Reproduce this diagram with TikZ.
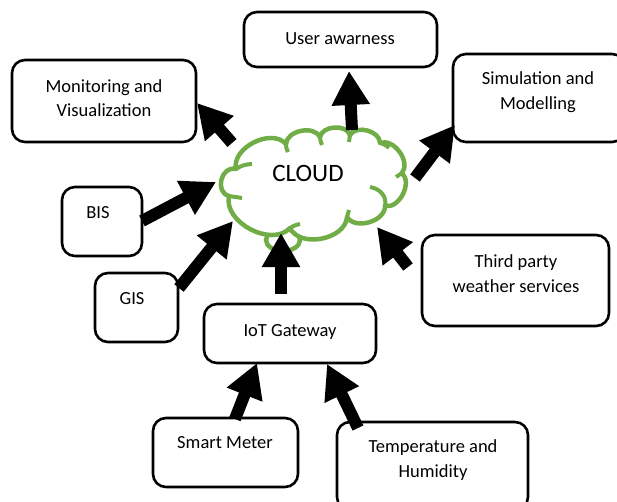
\documentclass[tikz,border=0pt]{standalone}
\usepackage{fontspec}
\setmainfont{Carlito}
\usetikzlibrary{arrows.meta,shapes.geometric}
\definecolor{cloudgreen}{HTML}{70AD47}
\begin{document}
\begin{tikzpicture}[x=1pt,y=-1pt,
  box/.style={draw=black,line width=2.6pt,rounded corners=13pt,fill=white},
  txt/.style={align=center,font=\fontsize{18.5pt}{24.5pt}\selectfont,inner sep=0pt},
  bigarrow/.style={line width=12pt,-{Triangle[length=34pt,width=36pt]}},
  cloudline/.style={draw=cloudgreen,line width=4.5pt},
  hook/.style={draw=cloudgreen,line width=4pt},
  puff/.style={bend left=75}
]
\useasboundingbox (0,0) rectangle (617,502);
% boxes
\draw[box] (244,12) rectangle (437,67) node[pos=0.5] (userb) {};
\node[txt] (usert) at (340,39) {User awarness};
\draw[box] (12,60) rectangle (196,142) node[pos=0.5] (monb) {};
\node[txt] (mont) at (104,98) {Monitoring and\\Visualization};
\draw[box] (453,54) rectangle (625,142) node[pos=0.5] (simb) {};
\node[txt] (simt) at (538,92) {Simulation and\\Modelling};
\draw[box] (62,187) rectangle (142,256) node[pos=0.5] (bisb) {};
\node[txt] (bist) at (98,213) {BIS};
\draw[box] (95,273) rectangle (178,342) node[pos=0.5] (gisb) {};
\node[txt] (gist) at (132,299) {GIS};
\draw[box] (204,304) rectangle (376,363) node[pos=0.5] (iotb) {};
\node[txt] (iott) at (290,332) {IoT Gateway};
\draw[box] (422,235) rectangle (609,326) node[pos=0.5] (thirdb) {};
\node[txt] (thirdt) at (516,273.5) {Third party\\weather services};
\draw[box] (153,418) rectangle (298,487) node[pos=0.5] (smb) {};
\node[txt] (smt) at (225,443) {Smart Meter};
\draw[box] (337,422) rectangle (528,510) node[pos=0.5] (tmb) {};
\node[txt] (tmt) at (433,460) {Temperature and\\Humidity};
% cloud
\draw[cloudline] (283,240) ellipse (17pt and 11pt);
\coordinate (j1) at (236,169);
\coordinate (j2) at (286,144);
\coordinate (j3) at (320,137);
\coordinate (j4) at (350,135);
\coordinate (j5) at (380,143);
\coordinate (j6) at (402,173);
\coordinate (j7) at (385,206);
\coordinate (j8) at (347,217);
\coordinate (j9) at (290,228);
\coordinate (j10) at (229,196);
\draw[cloudline,fill=white,line join=round]
  (j1) to[puff] (j2) to[puff] (j3) to[puff] (j4) to[puff] (j5)
  to[puff] (j6) to[puff] (j7) to[puff] (j8) to[puff] (j9)
  to[puff] (j10) to[bend left=90,looseness=1.4] (j1) -- cycle;
% inner hooks of the cloud
\draw[hook] (j1) to[bend left=15] (252,164);
\draw[hook] (j2) to[bend right=15] (288,152);
\draw[hook] (j3) to[bend right=10] (322,145);
\draw[hook] (j4) -- (349,142);
\draw[hook] (j5) to[bend left=15] (389,148);
\draw[hook] (j6) to[bend left=10] (396,177);
\draw[hook] (j7) .. controls (387,197) and (381,189) .. (370,187);
\draw[hook] (j8) -- (349,210);
\draw[hook] (j9) to[bend left=10] (300,224);
\draw[hook] (j10) -- (242,198);
\node[inner sep=0pt,font=\fontsize{25pt}{30pt}\selectfont] (cloudt) at (308,173) {CLOUD};
% arrow end points
\coordinate (c1) at (232,143); \coordinate (m1) at (197,103);
\coordinate (c2) at (352,130); \coordinate (u1) at (349,71);
\coordinate (c3) at (415,178); \coordinate (s1) at (455,125);
\coordinate (b1) at (142,221); \coordinate (c4) at (216,182);
\coordinate (g1) at (179,288); \coordinate (c5) at (233,221);
\coordinate (i1) at (281,294); \coordinate (c6) at (281,233);
\coordinate (t1) at (408,267); \coordinate (c7) at (377,227);
\coordinate (sm1) at (235,419); \coordinate (i2) at (257,363);
\coordinate (tm1) at (358,428); \coordinate (i3) at (327,364);
\draw[bigarrow] (c1) -- (m1);
\draw[bigarrow] (c2) -- (u1);
\draw[bigarrow] (c3) -- (s1);
\draw[bigarrow] (b1) -- (c4);
\draw[bigarrow] (g1) -- (c5);
\draw[bigarrow] (i1) -- (c6);
\draw[bigarrow] (t1) -- (c7);
\draw[bigarrow] (sm1) -- (i2);
\draw[bigarrow] (tm1) -- (i3);
\end{tikzpicture}
\end{document}
